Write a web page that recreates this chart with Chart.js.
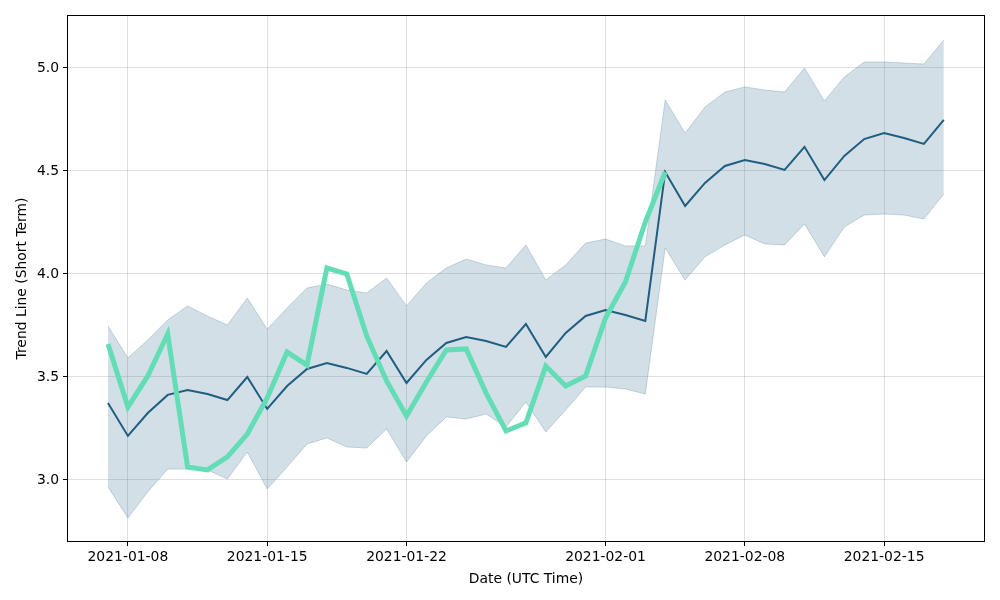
<!DOCTYPE html>
<html>
<head>
<meta charset="utf-8">
<script src="https://cdn.jsdelivr.net/npm/chart.js@4.4.1/dist/chart.umd.min.js"></script>
<style>
  html, body { margin: 0; padding: 0; background: #fff; }
  #wrap { width: 1000px; height: 600px; }
</style>
</head>
<body>
<div id="wrap"><canvas id="myChart"></canvas></div>
<script>
    "use strict";

    // one entry per day, 2021-01-07 .. 2021-02-18
    var dates = [];
    (function () {
        var d = new Date(Date.UTC(2021, 0, 7));
        for (var i = 0; i < 43; i++) {
            dates.push(d.toISOString().slice(0, 10));
            d.setUTCDate(d.getUTCDate() + 1);
        }
    })();

    var trend = [3.374, 3.214, 3.325, 3.413, 3.437, 3.417, 3.388, 3.500, 3.345, 3.456,
        3.539, 3.568, 3.544, 3.515, 3.626, 3.471, 3.583, 3.665, 3.694, 3.675,
        3.646, 3.757, 3.597, 3.714, 3.796, 3.825, 3.801, 3.772, 4.495, 4.330,
        4.442, 4.524, 4.553, 4.534, 4.505, 4.617, 4.456, 4.573, 4.655, 4.684,
        4.660, 4.631, 4.748];

    var upper = [3.748, 3.592, 3.680, 3.777, 3.845, 3.796, 3.752, 3.883, 3.733, 3.835,
        3.932, 3.951, 3.922, 3.908, 3.981, 3.845, 3.956, 4.029, 4.073, 4.044,
        4.029, 4.141, 3.971, 4.044, 4.150, 4.170, 4.136, 4.136, 4.845, 4.684,
        4.811, 4.883, 4.908, 4.893, 4.883, 5.000, 4.840, 4.956, 5.029, 5.029,
        5.024, 5.019, 5.136];

    var lower = [2.966, 2.816, 2.942, 3.053, 3.053, 3.049, 3.005, 3.136, 2.956, 3.063,
        3.175, 3.204, 3.160, 3.155, 3.248, 3.087, 3.214, 3.306, 3.296, 3.320,
        3.257, 3.379, 3.233, 3.340, 3.451, 3.451, 3.442, 3.417, 4.126, 3.971,
        4.083, 4.141, 4.189, 4.146, 4.141, 4.243, 4.083, 4.228, 4.286, 4.291,
        4.286, 4.267, 4.388];

    var actual = [3.660, 3.354, 3.505, 3.709, 3.063, 3.049, 3.112, 3.223, 3.398, 3.621,
        3.558, 4.029, 4.000, 3.699, 3.481, 3.311, 3.476, 3.631, 3.636, 3.422,
        3.238, 3.277, 3.553, 3.456, 3.505, 3.786, 3.961, 4.252, 4.495];

    var xTickLabels = ['2021-01-08', '2021-01-15', '2021-01-22', '2021-02-01', '2021-02-08', '2021-02-15'];
    var yTickValues = [3.0, 3.5, 4.0, 4.5, 5.0];

    function pts(arr) {
        return arr.map(function (v, i) { return { x: i, y: v }; });
    }

    var frame = {
        id: 'frame',
        afterDraw: function (chart) {
            var a = chart.chartArea, c = chart.ctx;
            c.save();
            c.strokeStyle = '#000';
            c.lineWidth = 1;
            c.strokeRect(a.left + 0.5, a.top + 0.5, a.right - a.left - 1, a.bottom - a.top - 1);
            c.restore();
        }
    };

    var font = { family: 'DejaVu Sans', size: 13.9 };

    var ctx = document.getElementById('myChart');
    var chart = new Chart(ctx, {
        type: 'line',
        data: {
            datasets: [
                {
                    label: 'Actual',
                    data: pts(actual),
                    borderColor: '#62ddb6',
                    borderWidth: 5,
                    pointRadius: 0,
                    fill: false,
                    order: 0
                },
                {
                    label: 'Trend',
                    data: pts(trend),
                    borderColor: '#1f5e80',
                    borderWidth: 2,
                    pointRadius: 0,
                    fill: false,
                    order: 1
                },
                {
                    label: 'Upper',
                    data: pts(upper),
                    borderColor: 'rgba(31, 94, 128, 0.22)',
                    borderWidth: 1,
                    pointRadius: 0,
                    backgroundColor: 'rgba(31, 94, 128, 0.2)',
                    fill: '+1',
                    order: 2
                },
                {
                    label: 'Lower',
                    data: pts(lower),
                    borderColor: 'rgba(31, 94, 128, 0.22)',
                    borderWidth: 1,
                    pointRadius: 0,
                    fill: false,
                    order: 3
                }
            ]
        },
        options: {
            responsive: true,
            maintainAspectRatio: false,
            animation: false,
            layout: { padding: { top: 15, right: 15, left: 0, bottom: 0 } },
            plugins: {
                legend: { display: false },
                tooltip: { enabled: false }
            },
            scales: {
                x: {
                    type: 'linear',
                    min: -2.06,
                    max: 44.07,
                    afterBuildTicks: function (axis) {
                        axis.ticks = xTickLabels.map(function (l) { return { value: dates.indexOf(l) }; });
                    },
                    afterFit: function (axis) { axis.height = 58; },
                    ticks: {
                        color: '#000',
                        font: font,
                        padding: 3,
                        maxRotation: 0,
                        autoSkip: false,
                        callback: function (v) { return dates[v]; }
                    },
                    grid: { color: 'rgba(0,0,0,0.12)', tickColor: '#000', tickLength: 4 },
                    border: { display: false },
                    title: { display: true, text: 'Date (UTC Time)', color: '#000', font: font, padding: { top: 2, bottom: 12 } }
                },
                y: {
                    type: 'linear',
                    min: 2.699,
                    max: 5.257,
                    afterBuildTicks: function (axis) {
                        axis.ticks = yTickValues.map(function (v) { return { value: v }; });
                    },
                    afterFit: function (axis) { axis.width = 67; },
                    ticks: {
                        color: '#000',
                        font: font,
                        padding: 4,
                        callback: function (v) { return v.toFixed(1); }
                    },
                    grid: { color: 'rgba(0,0,0,0.12)', tickColor: '#000', tickLength: 4 },
                    border: { display: false },
                    title: { display: true, text: 'Trend Line (Short Term)', color: '#000', font: font, padding: { top: 14, bottom: 0 } }
                }
            }
        },
        plugins: [frame]
    });
</script>
</body>
</html>
